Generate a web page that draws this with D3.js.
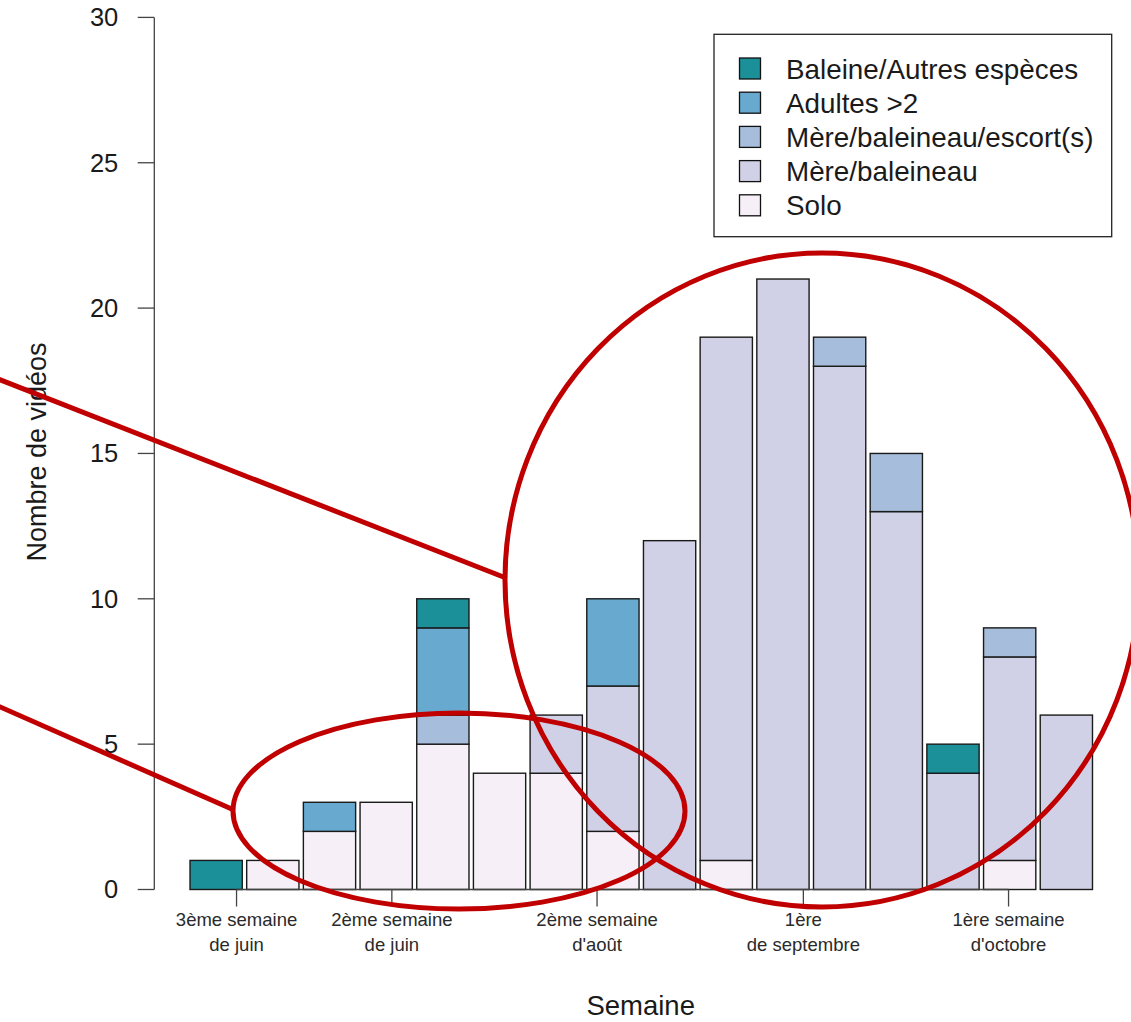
<!DOCTYPE html>
<html>
<head>
<meta charset="utf-8">
<script src="https://cdn.jsdelivr.net/npm/d3@7"></script>
<style>
  body { margin: 0; background: #fff; }
  svg { display: block; font-family: "Liberation Sans", Arial, Helvetica, sans-serif; }
</style>
</head>
<body>
<svg id="chart" width="1131" height="1022"></svg>
<script>
// catégories (empilées de bas en haut)
const categories = ['Solo', 'Mère/baleineau', 'Mère/baleineau/escort(s)', 'Adultes >2', 'Baleine/Autres espèces'];
const colors = ['#f6eff7', '#d0d1e6', '#a6bddb', '#67a9cf', '#1c9099'];

// nombre de vidéos par semaine (16 semaines)
const solo    = [0, 1, 2, 3, 5, 4, 4, 2, 0, 1, 0, 0, 0, 0, 1, 0];
const mere    = [0, 0, 0, 0, 0, 0, 2, 5, 12, 18, 21, 18, 13, 4, 7, 6];
const escort  = [0, 0, 0, 0, 1, 0, 0, 0, 0, 0, 0, 1, 2, 0, 1, 0];
const adultes = [0, 0, 1, 0, 3, 0, 0, 3, 0, 0, 0, 0, 0, 0, 0, 0];
const baleine = [1, 0, 0, 0, 1, 0, 0, 0, 0, 0, 0, 0, 0, 1, 0, 0];

// étiquettes de l'axe x et leur position (en unités de barre)
const tickLabels = [['3ème semaine', 'de juin'], ['2ème semaine', 'de juin'], ['2ème semaine', "d'août"], ['1ère', 'de septembre'], ['1ère semaine', "d'octobre"]];
const tickPos = [0.36, 3.10, 6.72, 10.36, 13.98];
const yTicks = [0, 5, 10, 15, 20, 25, 30];

const series = [solo, mere, escort, adultes, baleine];
const table = solo.map((_, i) => {
    const row = { week: i };
    categories.forEach((c, k) => row[c] = series[k][i]);
    return row;
});

const svg = d3.select('#chart');

const x = d3.scaleBand()
    .domain(d3.range(solo.length))
    .range([187.8, 1094.7])
    .paddingInner(0.078)
    .paddingOuter(0.039);
const y = d3.scaleLinear().domain([0, 30]).range([889.5, 17.4]);

const stacked = d3.stack().keys(categories)(table);

// barres
svg.append('g')
   .selectAll('g')
   .data(stacked)
   .join('g')
     .attr('fill', (_, k) => colors[k])
   .selectAll('rect')
   .data(d => d)
   .join('rect')
     .attr('x', d => x(d.data.week))
     .attr('y', d => y(d[1]))
     .attr('width', x.bandwidth())
     .attr('height', d => y(d[0]) - y(d[1]))
     .attr('stroke', '#1a1a1a')
     .attr('stroke-width', 1.4);

// axe y
const yAxis = svg.append('g').attr('transform', 'translate(154.3,0)');
yAxis.append('line')
     .attr('y1', y(0)).attr('y2', y(30))
     .attr('stroke', '#444').attr('stroke-width', 1.3);
yAxis.selectAll('.tick')
     .data(yTicks)
     .join('g')
       .attr('transform', d => `translate(0,${y(d)})`)
     .call(g => g.append('line').attr('x1', -16.6).attr('x2', 0).attr('stroke', '#444').attr('stroke-width', 1.3))
     .call(g => g.append('text')
                 .attr('x', -36).attr('dy', '0.35em')
                 .attr('text-anchor', 'end')
                 .attr('font-size', 25.5)
                 .attr('fill', '#1a1a1a')
                 .text(d => d));

// axe x
const xAt = p => x(0) + x.bandwidth() / 2 + p * x.step();
const xAxis = svg.append('g');
xAxis.append('line')
     .attr('x1', xAt(tickPos[0])).attr('x2', xAt(tickPos[tickPos.length - 1]))
     .attr('y1', y(0)).attr('y2', y(0))
     .attr('stroke', '#444').attr('stroke-width', 1.3);
const xt = xAxis.selectAll('.tick')
     .data(tickPos)
     .join('g')
       .attr('transform', d => `translate(${xAt(d)},${y(0)})`);
xt.append('line').attr('y1', 0).attr('y2', 17).attr('stroke', '#444').attr('stroke-width', 1.3);
xt.append('text')
  .attr('text-anchor', 'middle')
  .attr('font-size', 18.5)
  .attr('fill', '#2a2a2a')
  .selectAll('tspan')
  .data((_, i) => tickLabels[i])
  .join('tspan')
    .attr('x', 0)
    .attr('y', (_, j) => 36 + j * 25.5)
    .text(d => d);

// titres des axes
svg.append('text')
   .attr('x', 640.7).attr('y', 1015)
   .attr('text-anchor', 'middle')
   .attr('font-size', 27.5)
   .attr('fill', '#1a1a1a')
   .text('Semaine');
svg.append('text')
   .attr('transform', 'translate(46,452) rotate(-90)')
   .attr('text-anchor', 'middle')
   .attr('font-size', 27)
   .attr('fill', '#1a1a1a')
   .text('Nombre de vidéos');

// légende
const legend = svg.append('g');
legend.append('rect')
      .attr('x', 714).attr('y', 34.3)
      .attr('width', 397.7).attr('height', 202.4)
      .attr('fill', '#fff').attr('stroke', '#222').attr('stroke-width', 1.3);
const legendItems = categories.map((c, k) => ({ label: c, color: colors[k] })).reverse();
const li = legend.selectAll('.item')
      .data(legendItems)
      .join('g')
        .attr('transform', (_, i) => `translate(739.5,${68.5 + i * 34.2})`);
li.append('rect')
  .attr('x', 0).attr('y', -10.5)
  .attr('width', 21).attr('height', 21)
  .attr('fill', d => d.color)
  .attr('stroke', '#111').attr('stroke-width', 1.3);
li.append('text')
  .attr('x', 46.5).attr('dy', '0.36em')
  .attr('font-size', 27.8)
  .attr('fill', '#1a1a1a')
  .text(d => d.label);

// annotations rouges
const red = '#c00000';
const ann = svg.append('g').attr('fill', 'none').attr('stroke', red).attr('stroke-width', 5);
ann.append('line').attr('x1', -2).attr('y1', 379).attr('x2', 506).attr('y2', 578);
ann.append('line').attr('x1', -2).attr('y1', 706).attr('x2', 234).attr('y2', 810);
ann.append('ellipse').attr('cx', 822).attr('cy', 580).attr('rx', 317).attr('ry', 327);
ann.append('ellipse').attr('cx', 459).attr('cy', 811).attr('rx', 226).attr('ry', 98);
</script>
</body>
</html>
